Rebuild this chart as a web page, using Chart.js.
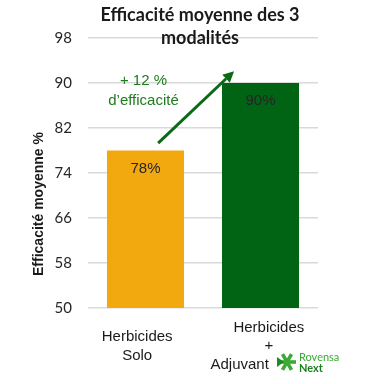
<!DOCTYPE html>
<html><head><meta charset="utf-8">
<script src="https://cdn.jsdelivr.net/npm/chart.js@4"></script>
<style>html,body{margin:0;padding:0;background:#fff}</style>
</head><body>
<canvas id="c" width="388" height="384" style="width:388px;height:384px;display:block"></canvas>
<script>
// ---- data ----
const categories = [["Herbicides    ", "Solo    "], ["    Herbicides", "    +", "Adjuvant          "]];
const values = [78, 90];
const valueLabels = ["78%", "90%"];
const barColors = ["#F2A80F", "#006414"];
const yTicks = [50, 58, 66, 74, 82, 90, 98];
const titleLines = ["Efficacité moyenne des 3", "modalités"];
const yTitle = "Efficacité moyenne %";
const annotationLines = ["+ 12 %", "d’efficacité"];
const arrowFrom = [0.11, 79.3];   // [category index, value]
const arrowTo = [0.77, 92.1];
const logoText = ["Rovensa", "Next"];

const overlay = {
  id: 'overlay',
  afterDatasetsDraw(chart) {
    const ctx = chart.ctx;
    const x = chart.scales.x, y = chart.scales.y;
    const meta = chart.getDatasetMeta(0);
    ctx.save();
    // value labels
    ctx.font = '15px "Liberation Sans", Arial, sans-serif';
    ctx.fillStyle = '#262626';
    ctx.textAlign = 'center';
    ctx.textBaseline = 'middle';
    meta.data.forEach((bar, i) => {
      ctx.fillText(valueLabels[i], bar.x, bar.y + 18);
    });
    // annotation text
    ctx.fillStyle = '#1E7B1E';
    const ax = x.getPixelForValue(0) - 2;
    annotationLines.forEach((t, i) => {
      ctx.fillText(t, ax, y.getPixelForValue(90.3) + i * 20);
    });
    // arrow
    const x1 = x.getPixelForValue(arrowFrom[0]), y1 = y.getPixelForValue(arrowFrom[1]);
    const x2 = x.getPixelForValue(arrowTo[0]), y2 = y.getPixelForValue(arrowTo[1]);
    const ang = Math.atan2(y2 - y1, x2 - x1);
    const hl = 11, hw = 5.5;
    const bx = x2 - hl * Math.cos(ang), by = y2 - hl * Math.sin(ang);
    ctx.strokeStyle = '#0B6A16';
    ctx.fillStyle = '#0B6A16';
    ctx.lineWidth = 3;
    ctx.beginPath(); ctx.moveTo(x1, y1); ctx.lineTo(bx, by); ctx.stroke();
    ctx.beginPath();
    ctx.moveTo(x2, y2);
    ctx.lineTo(bx + hw * Math.sin(ang), by - hw * Math.cos(ang));
    ctx.lineTo(bx - hw * Math.sin(ang), by + hw * Math.cos(ang));
    ctx.closePath(); ctx.fill();
    ctx.restore();
  },
  afterDraw(chart) {
    const ctx = chart.ctx;
    ctx.save();
    // title
    ctx.fillStyle = '#1a1a1a';
    ctx.font = 'bold 18px Lato, sans-serif';
    ctx.textAlign = 'center';
    ctx.textBaseline = 'middle';
    titleLines.forEach((t, i) => ctx.fillText(t, 200, 15 + i * 23));
    // y title
    ctx.save();
    ctx.translate(39, 204);
    ctx.rotate(-Math.PI / 2);
    ctx.font = 'bold 14px "Liberation Sans", Arial, sans-serif';
    ctx.fillText(yTitle, 0, 0);
    ctx.restore();
    // logo icon
    const cx = 287, cy = 362;
    ctx.strokeStyle = '#3BA935';
    ctx.lineWidth = 3.6;
    ctx.lineCap = 'butt';
    [0, 60, 120].forEach(a => {
      const r = a * Math.PI / 180;
      ctx.beginPath();
      ctx.moveTo(cx - 9 * Math.cos(r), cy - 9 * Math.sin(r));
      ctx.lineTo(cx + 9 * Math.cos(r), cy + 9 * Math.sin(r));
      ctx.stroke();
    });
    ctx.fillStyle = '#1E8A22';
    ctx.beginPath();
    ctx.moveTo(cx - 10, cy - 5); ctx.lineTo(cx - 3, cy); ctx.lineTo(cx - 10, cy + 5); ctx.closePath(); ctx.fill();
    ctx.textAlign = 'left';
    ctx.font = '11px Lato, sans-serif';
    ctx.fillStyle = '#3BA935';
    ctx.fillText(logoText[0], 299, 357);
    ctx.font = 'bold 11px Lato, sans-serif';
    ctx.fillStyle = '#1E7F1E';
    ctx.fillText(logoText[1], 299, 368.5);
    ctx.restore();
  }
};

new Chart(document.getElementById('c'), {
  type: 'bar',
  data: {
    labels: categories,
    datasets: [{
      data: values,
      backgroundColor: barColors,
      borderWidth: 0,
      barPercentage: 0.67,
      categoryPercentage: 1
    }]
  },
  options: {
    responsive: false,
    animation: false,
    devicePixelRatio: 1,
    layout: { padding: { left: 0, right: 70, top: 38, bottom: 0 } },
    plugins: { legend: { display: false }, tooltip: { enabled: false }, title: { display: false } },
    scales: {
      x: {
        grid: { display: false, drawTicks: false },
        border: { display: false },
        ticks: {
          font: { family: '"Liberation Sans", Arial, sans-serif', size: 15, lineHeight: 1.22 },
          color: '#1a1a1a', padding: 20, crossAlign: 'center', maxRotation: 0, autoSkip: false
        },
        afterFit(s) { s.height = 76; }
      },
      y: {
        min: 50, max: 98,
        afterBuildTicks(s) { s.ticks = yTicks.map(v => ({ value: v })); },
        grid: { color: '#D9D9D9', lineWidth: 1.5, drawTicks: false },
        border: { display: false },
        ticks: { padding: 16, font: { family: 'Lato, sans-serif', size: 15 }, color: '#262626' },
        afterFit(s) { s.width = 88; }
      }
    }
  },
  plugins: [overlay]
});
</script>
</body></html>
